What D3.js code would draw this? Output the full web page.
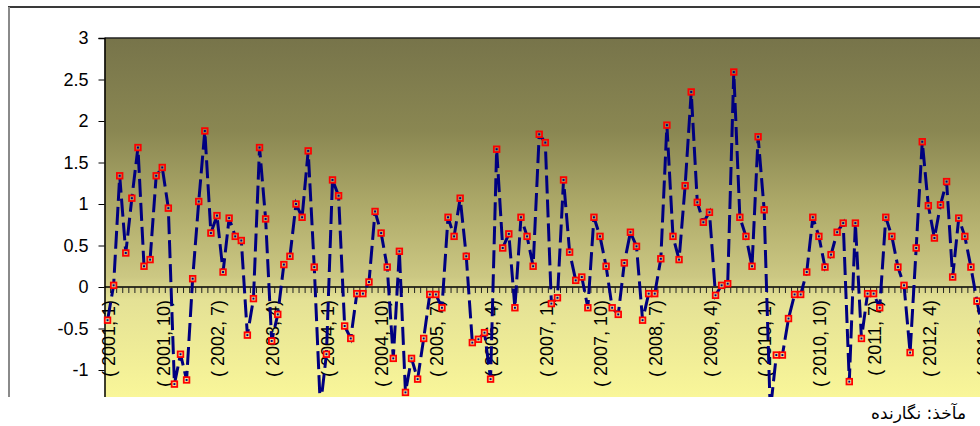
<!DOCTYPE html>
<html>
<head>
<meta charset="utf-8">
<script src="https://cdn.jsdelivr.net/npm/d3@7"></script>
<style>
  body { margin: 0; background: #fff; }
  svg { display: block; }
</style>
</head>
<body>
<div id="chart"></div>
<script>
// monthly index values, Jan 2001 onward (two troughs run below the cropped bottom edge)
const values = [
  -0.40, 0.02, 1.34, 0.41, 1.07, 1.68, 0.25, 0.33, 1.34, 1.44, 0.95, -1.17,
  -0.81, -1.12, 0.10, 1.03, 1.88, 0.65, 0.86, 0.18, 0.83, 0.61, 0.56, -0.58,
  -0.14, 1.68, 0.82, -0.65, -0.33, 0.27, 0.37, 1.00, 0.84, 1.64, 0.24, -1.45,
  -0.81, 1.29, 1.10, -0.47, -0.62, -0.08, -0.08, 0.06, 0.91, 0.65, 0.24, -0.86,
  0.43, -1.27, -0.86, -1.11, -0.62, -0.09, -0.09, -0.25, 0.84, 0.61, 1.07, 0.37,
  -0.67, -0.63, -0.55, -1.11, 1.66, 0.47, 0.64, -0.25, 0.84, 0.61, 0.25, 1.84,
  1.74, -0.20, -0.13, 1.29, 0.42, 0.08, 0.12, -0.25, 0.84, 0.61, 0.25, -0.25,
  -0.33, 0.29, 0.66, 0.49, -0.40, -0.08, -0.08, 0.34, 1.95, 0.61, 0.33, 1.22,
  2.35, 1.02, 0.78, 0.90, -0.10, 0.02, 0.04, 2.59, 0.84, 0.61, 0.25, 1.81,
  0.93, -1.50, -0.82, -0.82, -0.38, -0.09, -0.09, 0.18, 0.84, 0.61, 0.24, 0.39,
  0.66, 0.77, -1.14, 0.77, -0.62, -0.08, -0.08, -0.25, 0.84, 0.61, 0.24, 0.02,
  -0.79, 0.47, 1.75, 0.98, 0.59, 0.99, 1.27, 0.12, 0.83, 0.61, 0.24, -0.17,
  -0.55
];

const startYear = 2001;
const categories = values.map((v, i) => `( ${startYear + Math.floor(i / 12)}, ${i % 12 + 1})`);

// every ninth month carries a label
const tickLabels = [
  "( 2001, 1)", "( 2001, 10)", "( 2002, 7)", "( 2003, 4)", "( 2004, 1)",
  "( 2004, 10)", "( 2005, 7)", "( 2006, 4)", "( 2007, 1)", "( 2007, 10)",
  "( 2008, 7)", "( 2009, 4)", "( 2010, 1)", "( 2010, 10)", "( 2011, 7)",
  "( 2012, 4)", "( 2013, 1)"
];
const yTicks = [-1.5, -1, -0.5, 0, 0.5, 1, 1.5, 2, 2.5, 3];

const width = 980, height = 426;
const plotLeft = 104.5, plotTop = 38, plotBottom = 411.5, cutY = 397;
const step = 6.08;

const svg = d3.select("#chart")
  .append("svg")
  .attr("width", width)
  .attr("height", height);

const x = d3.scaleBand()
  .domain(categories)
  .range([plotLeft, plotLeft + step * categories.length]);

const y = d3.scaleLinear()
  .domain([-1.5, 3])
  .range([plotBottom, plotTop]);

const defs = svg.append("defs");

const grad = defs.append("linearGradient")
  .attr("id", "bg")
  .attr("gradientUnits", "userSpaceOnUse")
  .attr("x1", 0).attr("x2", 0)
  .attr("y1", plotTop).attr("y2", plotBottom);
[[0, "#77744a"], [0.25, "#8a8752"], [0.44, "#aca868"], [0.64, "#ccc883"],
 [0.70, "#e4e195"], [0.96, "#f9f699"], [1, "#fafa9c"]].forEach(s => {
  grad.append("stop").attr("offset", s[0]).attr("stop-color", s[1]);
});

defs.append("clipPath")
  .attr("id", "cut")
  .append("rect")
  .attr("x", 0).attr("y", 0)
  .attr("width", width).attr("height", cutY);

const chart = svg.append("g").attr("clip-path", "url(#cut)");

// outer chart frame (cropped on the right and bottom)
chart.append("line")
  .attr("x1", 8).attr("x2", width).attr("y1", 7).attr("y2", 7)
  .attr("stroke", "#3a3a3a").attr("stroke-width", 2);
chart.append("line")
  .attr("x1", 9).attr("x2", 9).attr("y1", 7).attr("y2", cutY)
  .attr("stroke", "#8a8a8a").attr("stroke-width", 2);

// plot area
chart.append("rect")
  .attr("x", plotLeft)
  .attr("y", plotTop)
  .attr("width", width - plotLeft)
  .attr("height", plotBottom - plotTop)
  .attr("fill", "url(#bg)");
chart.append("line")
  .attr("x1", plotLeft).attr("x2", width)
  .attr("y1", plotTop).attr("y2", plotTop)
  .attr("stroke", "#222").attr("stroke-width", 1.5);

// y axis
const yAxis = chart.append("g")
  .attr("transform", `translate(${plotLeft},0)`)
  .call(d3.axisLeft(y).tickValues(yTicks).tickSize(6).tickPadding(10).tickFormat(d => String(d)));
yAxis.select(".domain").attr("stroke", "#000").attr("stroke-width", 1.5);
yAxis.selectAll(".tick line").attr("stroke", "#000");
yAxis.selectAll(".tick text")
  .attr("font-family", "Liberation Sans, Arial, sans-serif")
  .attr("font-size", 18)
  .attr("fill", "#000");

// x axis on the zero line, a tick at each month boundary
const xAxis = chart.append("g")
  .attr("transform", `translate(0,${y(0)})`);
xAxis.append("line")
  .attr("x1", plotLeft).attr("x2", width)
  .attr("stroke", "#000").attr("stroke-width", 1.5);
xAxis.selectAll("line.tick")
  .data(categories)
  .enter()
  .append("line")
  .attr("class", "tick")
  .attr("x1", d => x(d) + x.bandwidth())
  .attr("x2", d => x(d) + x.bandwidth())
  .attr("y1", 0).attr("y2", 6)
  .attr("stroke", "#222");

xAxis.selectAll("text")
  .data(categories.filter(c => tickLabels.includes(c)))
  .enter()
  .append("text")
  .attr("transform", d => `translate(${x(d) + x.bandwidth() / 2 + 1},13) rotate(-90)`)
  .attr("dy", "0.35em")
  .attr("text-anchor", "end")
  .attr("font-family", "Liberation Sans, Arial, sans-serif")
  .attr("font-size", 18)
  .attr("fill", "#000")
  .text(d => d);

// dashed series line
const line = d3.line()
  .x((d, i) => x(categories[i]) + x.bandwidth() / 2)
  .y(d => y(d));

chart.append("path")
  .datum(values)
  .attr("fill", "none")
  .attr("stroke", "#000080")
  .attr("stroke-width", 3)
  .attr("stroke-dasharray", "18,6")
  .attr("d", line);

// square markers, hollow over the background with a dot at the centre
chart.selectAll("rect.marker")
  .data(values)
  .enter()
  .append("rect")
  .attr("class", "marker")
  .attr("x", (d, i) => x(categories[i]) + x.bandwidth() / 2 - 2.8)
  .attr("y", d => y(d) - 2.8)
  .attr("width", 5.6)
  .attr("height", 5.6)
  .attr("fill", "url(#bg)")
  .attr("stroke", "#ff0000")
  .attr("stroke-width", 1.8);

chart.selectAll("rect.dot")
  .data(values)
  .enter()
  .append("rect")
  .attr("class", "dot")
  .attr("x", (d, i) => x(categories[i]) + x.bandwidth() / 2 - 1)
  .attr("y", d => y(d) - 1)
  .attr("width", 2)
  .attr("height", 2)
  .attr("fill", "#000080");

// source note
svg.append("text")
  .attr("x", 966)
  .attr("y", 419)
  .attr("text-anchor", "end")
  .attr("font-family", "DejaVu Sans, Noto Sans, sans-serif")
  .attr("font-size", 17)
  .attr("fill", "#000")
  .text("مآخذ: نگارنده");
</script>
</body>
</html>
